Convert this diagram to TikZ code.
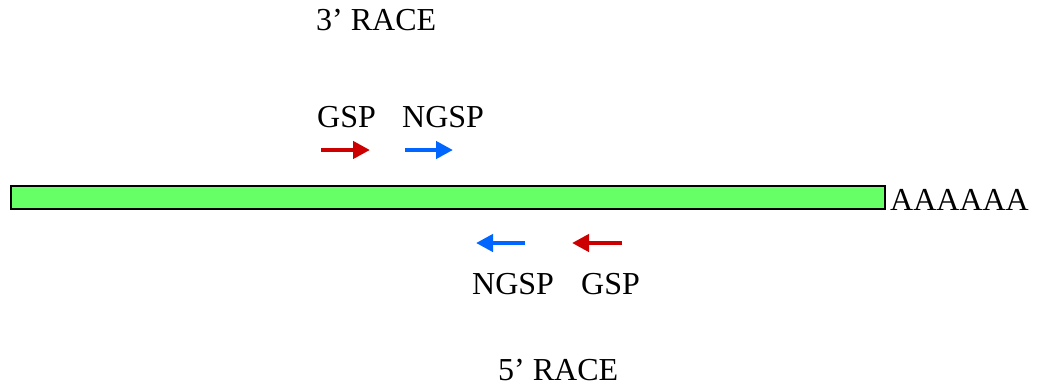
\documentclass[tikz,border=0pt]{standalone}
\usepackage{fontspec}
\setmainfont{Liberation Serif}
\usetikzlibrary{arrows.meta}
\definecolor{barg}{HTML}{66FF66}
\definecolor{pred}{HTML}{CC0000}
\definecolor{pblue}{HTML}{0066FF}
\tikzset{
  lbl/.style={anchor=base west,inner sep=0pt,font=\fontsize{32}{36}\selectfont},
  primer/.style={line width=4.5pt,-{Triangle[length=17pt,width=17pt]}},
}
\begin{document}
\begin{tikzpicture}[x=1pt,y=-1pt]
\useasboundingbox (0,0) rectangle (1039,389);
\node[draw=black,line width=2pt,fill=barg,minimum width=874pt,minimum height=23pt,inner sep=0pt,anchor=north west] (bar) at (10,185) {};
\node[lbl] (polyA) at (890,210) {AAAAAA};
\node[lbl] (race3) at (316,30) {3’ RACE};
\node[lbl] (gsp1) at (317,127) {GSP};
\node[lbl] (ngsp1) at (402,127) {NGSP};
\node[lbl] (ngsp2) at (472,294) {NGSP};
\node[lbl] (gsp2) at (581,294) {GSP};
\node[lbl] (race5) at (498,380) {5’ RACE};
\coordinate (a1s) at (321,150); \coordinate (a1e) at (370,150);
\coordinate (a2s) at (405,150); \coordinate (a2e) at (453,150);
\coordinate (a3s) at (525,243); \coordinate (a3e) at (476,243);
\coordinate (a4s) at (622,243); \coordinate (a4e) at (572,243);
\draw[primer,pred] (a1s) -- (a1e);
\draw[primer,pblue] (a2s) -- (a2e);
\draw[primer,pblue] (a3s) -- (a3e);
\draw[primer,pred] (a4s) -- (a4e);
\end{tikzpicture}
\end{document}
